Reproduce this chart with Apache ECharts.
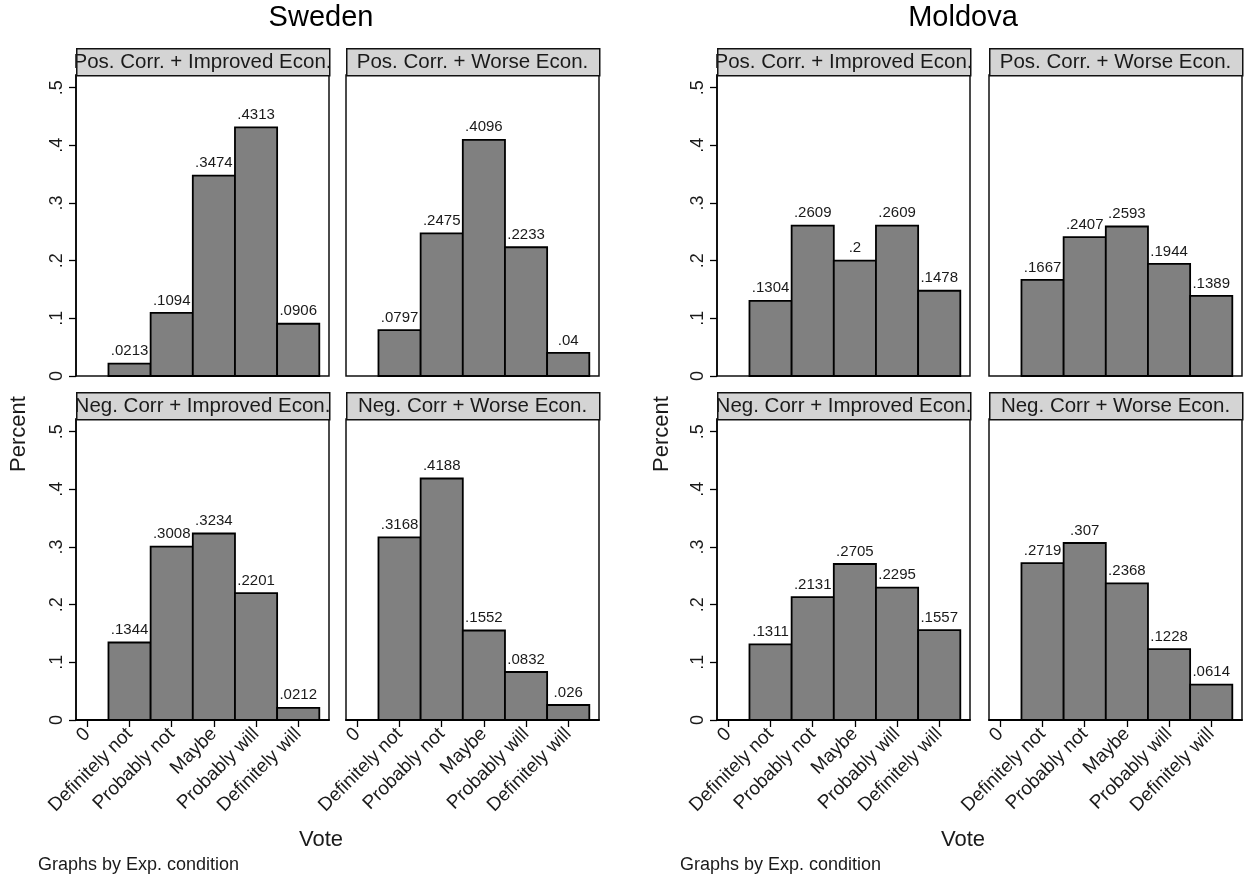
<!DOCTYPE html>
<html><head><meta charset="utf-8">
<script src="https://cdn.jsdelivr.net/npm/echarts@6/dist/echarts.min.js"></script>
<style>html,body{margin:0;padding:0;background:#fff}#c{width:1244px;height:879px}</style>
</head><body><div id="c"></div>
<script>
// ---- data ----
const categories = ['0', 'Definitely not', 'Probably not', 'Maybe', 'Probably will', 'Definitely will'];
const xTickValues = [0, 1, 2, 3, 4, 5];
const yTickValues = [0, 0.1, 0.2, 0.3, 0.4, 0.5];
const countries = ['Sweden', 'Moldova'];
const panelTitles = ['Pos. Corr. + Improved Econ.', 'Pos. Corr. + Worse Econ.', 'Neg. Corr + Improved Econ.', 'Neg. Corr + Worse Econ.'];
const yTitle = 'Percent';
const xTitle = 'Vote';
const footnote = 'Graphs by Exp. condition';

// values for categories 1..5 (category "0" has no observations)
const swePosImp = [0.0213, 0.1094, 0.3474, 0.4313, 0.0906];
const swePosWor = [0.0797, 0.2475, 0.4096, 0.2233, 0.04];
const sweNegImp = [0.1344, 0.3008, 0.3234, 0.2201, 0.0212];
const sweNegWor = [0.3168, 0.4188, 0.1552, 0.0832, 0.026];
const molPosImp = [0.1304, 0.2609, 0.2, 0.2609, 0.1478];
const molPosWor = [0.1667, 0.2407, 0.2593, 0.1944, 0.1389];
const molNegImp = [0.1311, 0.2131, 0.2705, 0.2295, 0.1557];
const molNegWor = [0.2719, 0.307, 0.2368, 0.1228, 0.0614];

const panelData = [
  [swePosImp, swePosWor, sweNegImp, sweNegWor],
  [molPosImp, molPosWor, molNegImp, molNegWor]
];

// ---- layout ----
const FONT = '"Liberation Sans", Arial, Helvetica, sans-serif';
const TXT = '#1a1a1a';
const colLeft = [[76, 346], [717, 989]];
const rowTop = [75, 419];
const W = 253, H = 301, HH = 27;
const X_MIN = -0.27, X_MAX = 5.73, Y_MAX = 0.522;
const titleX = [321, 963];
const percentX = [19, 662];
const footX = [38, 680];

function fmtNum(v) {
  let s = String(+v.toFixed(4));
  return s.replace(/^0(?=\.)/, '');
}

function renderBar(params, api) {
  const x = api.value(0), y = api.value(1);
  const a = api.coord([x - 0.5, y]);
  const b = api.coord([x + 0.5, 0]);
  return {
    type: 'group',
    children: [
      { type: 'rect', shape: { x: a[0], y: a[1], width: b[0] - a[0], height: b[1] - a[1] },
        style: { fill: '#808080', stroke: '#000', lineWidth: 1.8 } },
      { type: 'text', x: (a[0] + b[0]) / 2, y: a[1] - 5,
        style: { text: fmtNum(y), fill: TXT, fontSize: 15, fontFamily: FONT, align: 'center', verticalAlign: 'bottom' } }
    ]
  };
}

const grid = [], xAxis = [], yAxis = [], series = [], graphic = [];
let gi = 0;
for (let c = 0; c < 2; c++) {
  for (let p = 0; p < 4; p++) {
    const row = Math.floor(p / 2), col = p % 2;
    const left = colLeft[c][col], top = rowTop[row];
    const isBottom = row === 1, isLeft = col === 0;
    grid.push({ left: left, top: top, width: W, height: H, show: true, borderColor: '#111', borderWidth: 1.5, backgroundColor: 'transparent' });
    xAxis.push({
      type: 'value', gridIndex: gi, min: X_MIN, max: X_MAX, position: 'bottom',
      axisLine: { show: isBottom, onZero: false, lineStyle: { color: '#000', width: 1.8 } },
      axisTick: { show: isBottom, customValues: xTickValues, length: 7, lineStyle: { color: '#000', width: 1.3 } },
      axisLabel: { show: isBottom, customValues: xTickValues, rotate: 45, margin: 11, fontSize: 19, fontFamily: FONT, color: TXT,
        formatter: v => categories[Math.round(v)] },
      splitLine: { show: false }
    });
    yAxis.push({
      type: 'value', gridIndex: gi, min: 0, max: Y_MAX, position: 'left',
      axisLine: { show: isLeft, onZero: false, lineStyle: { color: '#000', width: 1.5 } },
      axisTick: { show: isLeft, customValues: yTickValues, length: 7, lineStyle: { color: '#000', width: 1.3 } },
      axisLabel: { show: isLeft, customValues: yTickValues, rotate: 90, margin: 10, fontSize: 18, fontFamily: FONT, color: TXT,
        formatter: v => (Math.abs(v) < 1e-9 ? '0' : fmtNum(v)) },
      splitLine: { show: false }
    });
    series.push({
      type: 'custom', xAxisIndex: gi, yAxisIndex: gi, clip: false,
      data: panelData[c][p].map((v, i) => [i + 1, v]),
      renderItem: renderBar
    });
    // header strip
    graphic.push({ type: 'rect', left: left, top: top - HH, shape: { width: W, height: HH },
      style: { fill: '#d4d4d4', stroke: '#111', lineWidth: 1.5 }, z: 10 });
    graphic.push({ type: 'text', x: left + W / 2, y: top - HH / 2 + 1,
      style: { text: panelTitles[p], fill: TXT, fontSize: 20.5, fontFamily: FONT, align: 'center', verticalAlign: 'middle' }, z: 11 });
    gi++;
  }
  graphic.push({ type: 'text', x: titleX[c], y: 18,
    style: { text: countries[c], fill: '#000', fontSize: 29, fontFamily: FONT, align: 'center', verticalAlign: 'middle' } });
  graphic.push({ type: 'text', x: percentX[c], y: 434, rotation: Math.PI / 2,
    style: { text: yTitle, fill: TXT, fontSize: 22, fontFamily: FONT, align: 'center', verticalAlign: 'middle' } });
  graphic.push({ type: 'text', x: titleX[c], y: 840,
    style: { text: xTitle, fill: TXT, fontSize: 22, fontFamily: FONT, align: 'center', verticalAlign: 'middle' } });
  graphic.push({ type: 'text', x: footX[c], y: 865,
    style: { text: footnote, fill: TXT, fontSize: 18, fontFamily: FONT, align: 'left', verticalAlign: 'middle' } });
}

const chart = echarts.init(document.getElementById('c'), null, { renderer: 'canvas' });
chart.setOption({
  animation: false,
  backgroundColor: '#fff',
  grid, xAxis, yAxis, series, graphic
});
</script>
</body></html>
